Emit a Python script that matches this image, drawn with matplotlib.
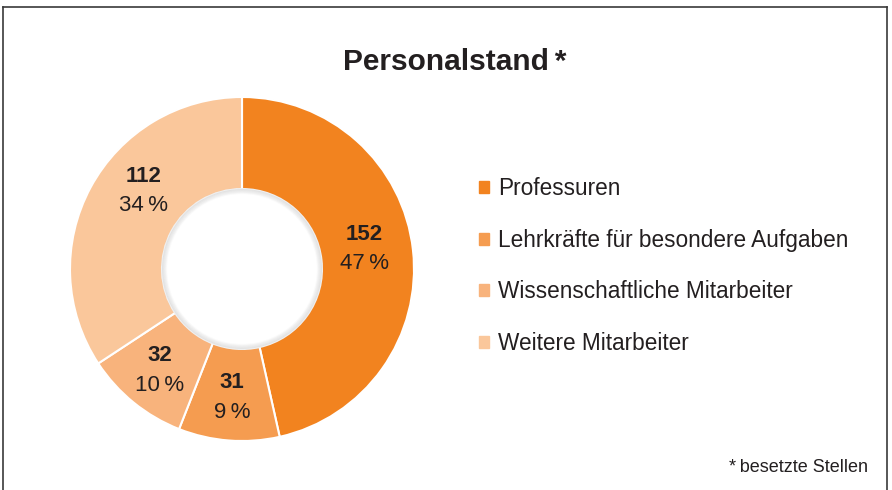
import numpy as np
import matplotlib
matplotlib.use("Agg")
import matplotlib.pyplot as plt
from matplotlib.lines import Line2D

categories = ["Professuren", "Lehrkräfte für besondere Aufgaben",
              "Wissenschaftliche Mitarbeiter", "Weitere Mitarbeiter"]
values = [152, 31, 32, 112]
percent_labels = ["47\u2009%", "9\u2009%", "10\u2009%", "34\u2009%"]
colors = ["#F2831F", "#F59C50", "#F8B37C", "#FAC79B"]
title = "Personalstand\u2009*"
footnote = "*\u2009besetzte Stellen"

plt.rcParams['font.family'] = ['Liberation Sans', 'DejaVu Sans']
txt = "#231F20"

W, H = 892, 490
fig = plt.figure(figsize=(W / 100, H / 100), dpi=100)
fig.patch.set_facecolor("white")

# frame lines
def px(x, y):
    return x / W, 1 - y / H
for (x0, y0), (x1, y1) in [((3, 7), (887, 7)), ((3, 7), (3, 495)), ((887, 7), (887, 495))]:
    a, b = px(x0, y0)
    c, d = px(x1, y1)
    fig.add_artist(Line2D([a, c], [b, d], color="#3a3a3a", lw=1.2))

cx, cy, R = 242, 269, 172
ax = fig.add_axes([(cx - R) / W, (H - cy - R) / H, 2 * R / W, 2 * R / H])
ax.axis("off")

inner = 0.465
wedges, _ = ax.pie(values, colors=colors, startangle=90, counterclock=False,
                   radius=1.0, wedgeprops=dict(width=1 - inner, edgecolor="white", linewidth=1.5))
ax.set_xlim(-1, 1)
ax.set_ylim(-1, 1)
ax.set_aspect("equal")

# subtle shadow in the hole
for i in range(5):
    circ = plt.Circle((0, 0), inner - 0.006 * i, fill=False, edgecolor="#000000",
                      alpha=0.06 - 0.01 * i, lw=1.5)
    ax.add_patch(circ)

# label placement tweaks (layout only)
angle_shift = [3, 0, 0, -10]
label_r = [0.72, 0.75, 0.76, 0.73]

total = sum(values)
start = 90.0
for v, p, sh, r_lab in zip(values, percent_labels, angle_shift, label_r):
    span = v / total * 360
    mid = np.deg2rad(start - span / 2 + sh)
    start -= span
    x, y = r_lab * np.cos(mid), r_lab * np.sin(mid)
    ax.text(x, y + 0.085, str(v), ha="center", va="center", fontsize=16,
            fontweight="bold", color=txt)
    ax.text(x, y - 0.085, p, ha="center", va="center", fontsize=16, color=txt)

fig.text(455 / W, 1 - 62 / H, title, ha="center", va="center", fontsize=21.5,
         fontweight="bold", color=txt)

handles = [plt.Rectangle((0, 0), 1, 1, color=c) for c in colors]
leg = fig.legend(handles, categories, loc="upper left",
                 bbox_to_anchor=(459 / W, 1 - 157 / H), frameon=False,
                 fontsize=16.3, handlelength=0.42, handleheight=0.42,
                 handletextpad=0.42, labelspacing=1.26, labelcolor=txt)

fig.text(868 / W, 1 - 467 / H, footnote, ha="right", va="center", fontsize=13, color=txt)

fig.savefig("out.png", dpi=100, facecolor="white")
